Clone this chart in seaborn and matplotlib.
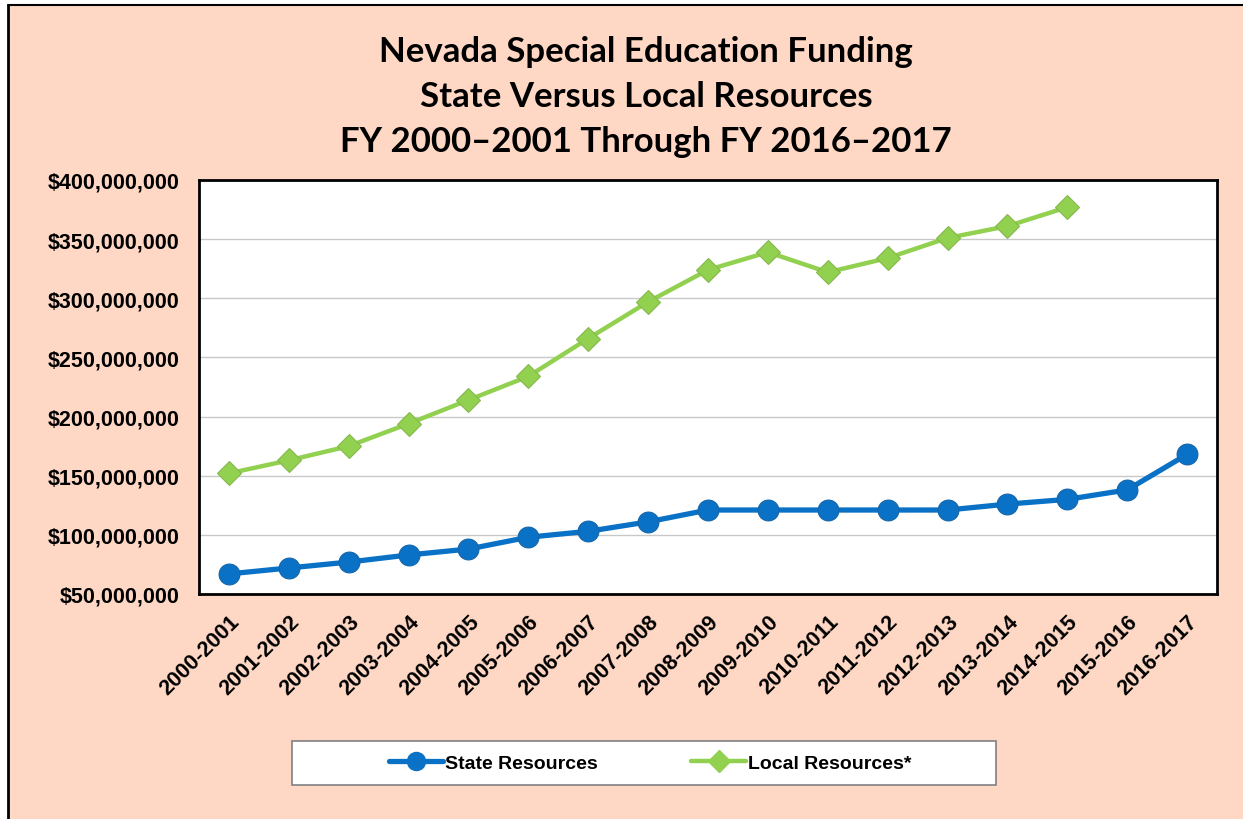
import numpy as np
import pandas as pd
import seaborn as sns
import matplotlib.pyplot as plt
from matplotlib.patches import Rectangle
from matplotlib.lines import Line2D
from matplotlib.ticker import FuncFormatter, MultipleLocator

years = ["2000-2001", "2001-2002", "2002-2003", "2003-2004", "2004-2005",
         "2005-2006", "2006-2007", "2007-2008", "2008-2009", "2009-2010",
         "2010-2011", "2011-2012", "2012-2013", "2013-2014", "2014-2015",
         "2015-2016", "2016-2017"]
state = [67e6, 72e6, 77e6, 83e6, 88e6, 98e6, 103e6, 111e6, 121e6, 121e6,
         121e6, 121e6, 121e6, 126e6, 130e6, 138e6, 168e6]
local = [152e6, 163e6, 175e6, 194e6, 214e6, 234e6, 266e6, 297e6, 324e6, 339e6,
         322e6, 334e6, 351e6, 361e6, 377e6, np.nan, np.nan]

df = pd.DataFrame({"year": years, "State Resources": state, "Local Resources*": local})
df["x"] = np.arange(len(years))

sns.set_style("white")
plt.rcParams['font.family'] = ['Liberation Sans', 'DejaVu Sans']
plt.rcParams['text.color'] = 'black'

blue = "#0A72C6"
green = "#92D050"
peach = "#FED8C5"

fig = plt.figure(figsize=(12.43, 8.2), dpi=100, facecolor="white")
fig.patches.append(Rectangle((8 / 1243, 0), 1, 1 - 6 / 820, transform=fig.transFigure,
                             facecolor=peach, edgecolor="none", zorder=-10))
fig.lines.append(Line2D([8 / 1243, 8 / 1243], [0, 1 - 6 / 820], transform=fig.transFigure,
                        color="black", lw=2))
fig.lines.append(Line2D([8 / 1243, 1], [1 - 6 / 820, 1 - 6 / 820], transform=fig.transFigure,
                        color="black", lw=1.5))
# legend box
fig.patches.append(Rectangle((292 / 1243, 1 - 786 / 820), (996 - 292) / 1243, 44 / 820,
                             transform=fig.transFigure, facecolor="white",
                             edgecolor="#808080", lw=1.2, zorder=1))

ax = fig.add_axes([199 / 1243, 1 - 595 / 820, (1217 - 199) / 1243, (595 - 181) / 820])
ax.set_facecolor("white")

sns.lineplot(data=df, x="x", y="State Resources", ax=ax, color=blue, lw=3.8,
             marker="o", markersize=15, markeredgecolor="#1565A8", markeredgewidth=0.8,
             label="State Resources", legend=False)
sns.lineplot(data=df, x="x", y="Local Resources*", ax=ax, color=green, lw=3.2,
             marker="D", markersize=12.5, markeredgecolor="#86B84E", markeredgewidth=0.8,
             label="Local Resources*", legend=False)

ax.set_xlim(-0.5, len(years) - 0.5)
ax.set_ylim(50e6, 400e6)
ax.yaxis.set_major_locator(MultipleLocator(50e6))
ax.yaxis.set_major_formatter(FuncFormatter(lambda v, p: f"${v:,.0f}"))
ax.grid(axis="y", color="#C8C8C8", lw=1)
ax.set_axisbelow(True)

ax.set_xticks(df["x"])
ax.set_xticklabels(years, rotation=45, ha="right", rotation_mode="anchor",
                   fontsize=15.5, fontweight="bold")
ax.set_xticks(np.arange(-0.5, len(years), 1), minor=True)
ax.tick_params(axis="x", which="major", length=0, pad=12, labelcolor="black")
ax.tick_params(axis="x", which="minor", length=6, width=1.5, color="#606060", direction="out")
ax.tick_params(axis="y", length=6, width=1.5, color="#606060", direction="out",
               labelsize=15.5, pad=8, labelcolor="black")
for t in ax.get_yticklabels():
    t.set_fontweight("bold")
ax.set_xlabel("")
ax.set_ylabel("")
for s in ax.spines.values():
    s.set_color("black")
    s.set_linewidth(2)

fig.text(646 / 1243, 1 - 97 / 820,
         "Nevada Special Education Funding\nState Versus Local Resources\nFY 2000\u20132001 Through FY 2016\u20132017",
         ha="center", va="center", fontsize=25, fontweight="bold", family=["Lato", "DejaVu Sans"],
         linespacing=1.5, color="black")

handles = [Line2D([], [], color=blue, lw=3.8, marker="o", markersize=13),
           Line2D([], [], color=green, lw=3.2, marker="D", markersize=11)]
leg = fig.legend(handles, ["State Resources", "Local Resources*"], loc="center",
                 bbox_to_anchor=(650 / 1243, 1 - 764 / 820), ncol=2, frameon=False,
                 fontsize=14, handlelength=2.8, columnspacing=4.8,
                 handletextpad=0.1, borderaxespad=0)
leg.set_zorder(2)
for t in leg.get_texts():
    t.set_fontweight("bold")
    t.set_color("black")

fig.savefig("out.png", dpi=100, facecolor=fig.get_facecolor())
